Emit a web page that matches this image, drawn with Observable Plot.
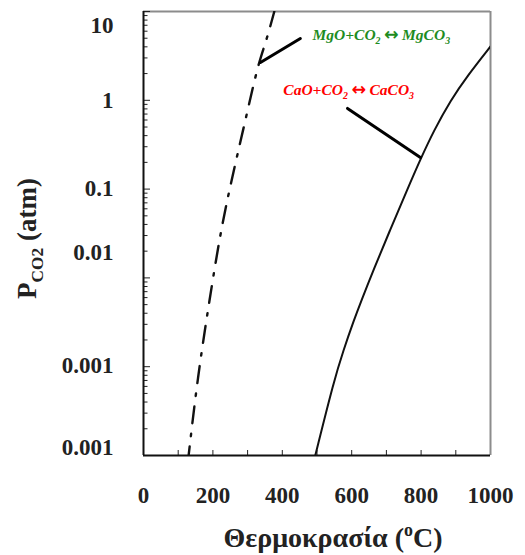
<!DOCTYPE html>
<html>
<head>
<meta charset="utf-8">
<script src="https://cdn.jsdelivr.net/npm/d3@7"></script>
<script src="https://cdn.jsdelivr.net/npm/@observablehq/plot@0.6"></script>
<style>
  body { margin: 0; background: #fff; }
  #chart svg { display: block; }
</style>
</head>
<body>
<div id="chart"></div>
<script>
// ---- data ----
const tempTickValues = [100, 200, 300, 400, 500, 600, 700, 800, 900];
const tempLabels = [0, 200, 400, 600, 800, 1000];
const pLabels = ["10", "1", "0.1", "0.01", "0.001", "0.001"];
const pLabelAt = [7, 1, 0.1, 0.0193, 0.00103, 0.000123];
const pMajor = [1e-4, 1e-3, 1e-2, 1e-1, 1, 10];
const pMinorMult = [2, 3, 4, 5, 6, 7, 8, 9];

// CaO + CO2 <-> CaCO3 (solid)
const caoT = [495, 549, 576, 606, 628, 662, 710, 759, 799, 837, 885, 934, 1000];
const caoP = [0.0001, 0.0007, 0.00152, 0.00331, 0.00557, 0.0121, 0.0342, 0.0964, 0.221, 0.457, 1.0, 1.9, 4.04];

// MgO + CO2 <-> MgCO3 (dash-dot)
const mgoT = [130, 156, 190, 219, 242, 268, 300, 331, 352, 377];
const mgoP = [0.0001, 0.00076, 0.0056, 0.0278, 0.078, 0.221, 0.767, 2.6, 4.4, 10];

// leader lines
const mgoLeaderT = [337, 452];
const mgoLeaderP = [2.67, 4.97];
const caoLeaderT = [588, 798];
const caoLeaderP = [0.81, 0.227];

// reaction labels
const reactions = ["MgO+CO_{2}↔MgCO_{3}", "CaO+CO_{2}↔CaCO_{3}"];
const reactionT = [487, 403];
const reactionP = [5.37, 1.29];
const reactionColors = ["#1e8c1e", "#ff0000"];

const xTitle = "Θερμοκρασία (^{o}C)";
const yTitle = "P_{CO2} (atm)";

// ---- build tables ----
const cao = caoT.map((t, i) => ({T: t, P: caoP[i]}));
const mgo = mgoT.map((t, i) => ({T: t, P: mgoP[i]}));
const leaders = [
  ...mgoLeaderT.map((t, i) => ({T: t, P: mgoLeaderP[i], k: "mgo"})),
  ...caoLeaderT.map((t, i) => ({T: t, P: caoLeaderP[i], k: "cao"}))
];
const labels = reactions.map((s, i) => ({s, T: reactionT[i], P: reactionP[i], c: reactionColors[i]}));
const pMinor = pMajor.slice(0, -1).flatMap(d => pMinorMult.map(m => d * m));
const yLabelRows = pLabelAt.map((v, i) => ({P: v, s: pLabels[i]}));

const font = "'Liberation Serif', 'Times New Roman', serif";

const chart = Plot.plot({
  width: 525,
  height: 555,
  marginLeft: 143,
  marginRight: 35,
  marginTop: 11,
  marginBottom: 100,
  x: {domain: [0, 1000]},
  y: {type: "log", domain: [1e-4, 10]},
  style: {fontFamily: font, fontWeight: "bold", color: "#222", background: "white"},
  marks: [
    // frame: gray top/right
    Plot.ruleY([10], {stroke: "#8c8c8c", strokeWidth: 2}),
    Plot.ruleX([1000], {stroke: "#8c8c8c", strokeWidth: 2}),
    // inward ticks
    Plot.axisY({ticks: pMinor, tickSize: -4.5, tickFormat: () => "", label: null, stroke: "#222"}),
    Plot.axisY({ticks: pMajor, tickSize: -7, tickFormat: () => "", label: null, stroke: "#222"}),
    Plot.axisX({ticks: tempTickValues, tickSize: -5, tickFormat: () => "", label: null, stroke: "#222"}),
    // tick labels
    Plot.text(yLabelRows, {y: "P", text: "s", frameAnchor: "left", dx: -30, textAnchor: "end",
                           lineAnchor: "middle", fontSize: 23, fontWeight: "bold", fill: "#222"}),
    Plot.axisX({ticks: tempLabels, tickSize: 0, tickPadding: 31, tickFormat: d => String(d), label: null,
                fontSize: 23, fontWeight: "bold", fill: "#222"}),
    // black left/bottom axis lines
    Plot.ruleX([0], {stroke: "#111", strokeWidth: 2}),
    Plot.ruleY([1e-4], {stroke: "#111", strokeWidth: 2}),
    // curves
    Plot.line(cao, {x: "T", y: "P", curve: "basis", stroke: "#111", strokeWidth: 2, clip: true}),
    Plot.line(mgo, {x: "T", y: "P", curve: "basis", stroke: "#111", strokeWidth: 2.4,
                    strokeDasharray: "17,10.5,2.5,10.5", strokeDashoffset: 8, clip: true}),
    // leaders
    Plot.line(leaders, {x: "T", y: "P", z: "k", stroke: "#000", strokeWidth: 3}),
    // reaction labels
    Plot.text(labels, {x: "T", y: "P", text: "s", fill: "c", textAnchor: "start", lineAnchor: "middle",
                       fontSize: 15.5, fontStyle: "italic", fontWeight: "bold", className: "rich15"}),
    // axis titles
    Plot.text([xTitle], {frameAnchor: "bottom", dx: 16, dy: 83, textAnchor: "middle", lineAnchor: "middle",
                         fontSize: 28, fontWeight: "bold", fill: "#222", className: "rich28"}),
    Plot.text([yTitle], {frameAnchor: "left", dx: -116, dy: 5, rotate: -90, textAnchor: "middle",
                         lineAnchor: "middle", fontSize: 27, fontWeight: "bold", fill: "#222", className: "rich27"})
  ]
});

function enrich(root, cls, size) {
  const NS = "http://www.w3.org/2000/svg";
  root.querySelectorAll(`.${cls} text`).forEach(el => {
    const s = el.textContent;
    el.textContent = "";
    const re = /([_^])\{([^}]*)\}|(↔)/g;
    let last = 0, m, cur = 0;
    const add = (t, k) => {
      const ts = document.createElementNS(NS, "tspan");
      ts.textContent = t;
      const target = k === "_" ? 0.25 * size : k === "^" ? -0.42 * size : 0;
      if (target !== cur) ts.setAttribute("dy", target - cur);
      cur = target;
      if (k === "_" || k === "^") ts.setAttribute("font-size", (size * 0.64).toFixed(1));
      if (k === "arrow") {
        ts.setAttribute("font-family", "'DejaVu Sans', sans-serif");
        ts.setAttribute("font-style", "normal");
        ts.setAttribute("font-size", (size * 1.12).toFixed(1));
      }
      el.appendChild(ts);
    };
    while ((m = re.exec(s))) {
      if (m.index > last) add(s.slice(last, m.index), null);
      if (m[3]) add("\u2009" + m[3] + "\u2009", "arrow"); else add(m[2], m[1]);
      last = re.lastIndex;
    }
    if (last < s.length) add(s.slice(last), null);
  });
}
enrich(chart, "rich15", 15.5);
enrich(chart, "rich28", 28);
enrich(chart, "rich27", 27);

document.getElementById("chart").appendChild(chart);
</script>
</body>
</html>
